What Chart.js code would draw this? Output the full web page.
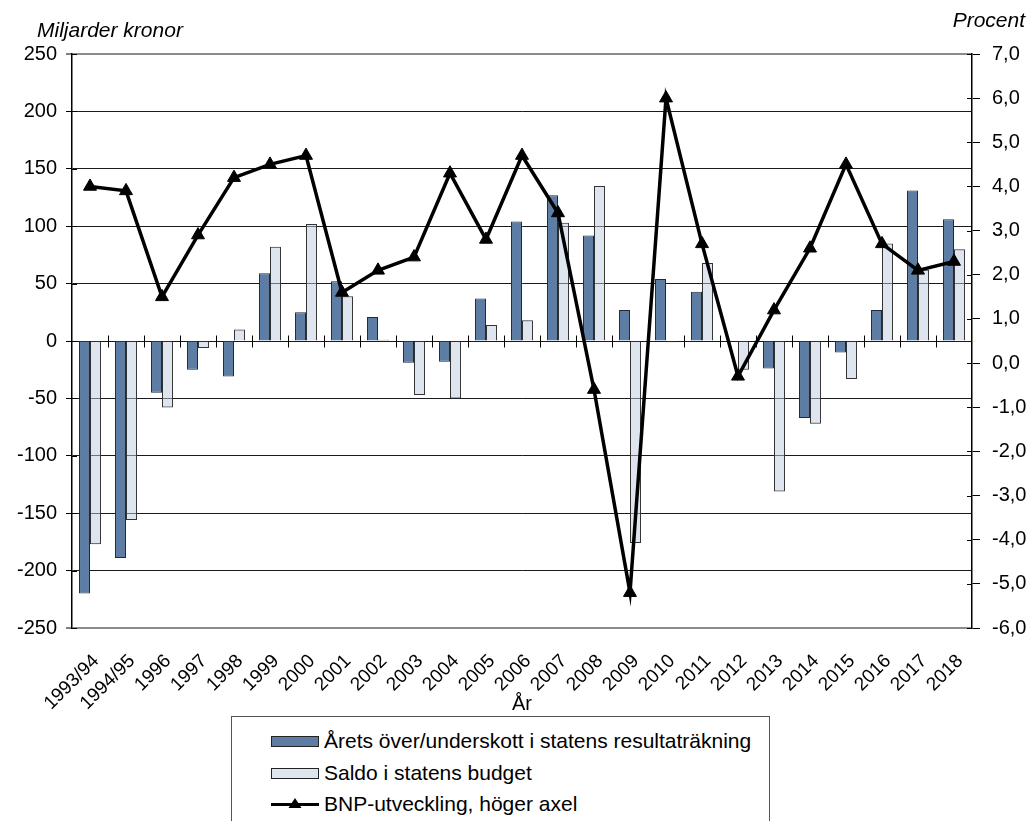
<!DOCTYPE html>
<html lang="sv">
<head>
<meta charset="utf-8">
<title>Statens finanser och BNP</title>
<script src="https://cdn.jsdelivr.net/npm/chart.js@4/dist/chart.umd.min.js"></script>
<style>
  html, body { margin: 0; padding: 0; background: #fff; overflow: hidden; }
  .wrap { position: relative; width: 1031px; height: 821px; }
  #chart { display: block; }
  .legend {
    position: absolute; left: 231px; top: 716px; width: 539px; height: 120px;
    border: 1px solid #555; box-sizing: border-box;
    font-family: 'Liberation Sans', Arial, sans-serif; font-size: 21px; color: #000;
  }
  .legend .row { position: absolute; left: 39px; height: 24px; display: flex; align-items: center; }
  .legend .sw { width: 48px; height: 11px; margin-right: 5px; box-sizing: border-box; border: 1px solid #222; }
  .legend canvas { margin-right: 5px; }
</style>
</head>
<body>
<div class="wrap">
  <canvas id="chart" width="1031" height="716"></canvas>
  <div class="legend" id="legend"></div>
</div>
<script>
// categories
const years = ['1993/94', '1994/95', '1996', '1997', '1998', '1999', '2000', '2001', '2002', '2003',
  '2004', '2005', '2006', '2007', '2008', '2009', '2010', '2011', '2012', '2013',
  '2014', '2015', '2016', '2017', '2018'];

// Årets över/underskott i statens resultaträkning, miljarder kronor
const resultat = [-220, -189, -45, -25, -31, 59, 25, 52, 21, -19,
  -18, 37, 104, 127, 92, 27, 54, 43, 0, -24,
  -67, -10, 27, 131, 106];

// Saldo i statens budget, miljarder kronor
const saldo = [-177, -156, -58, -6, 10, 82, 102, 39, 1, -47,
  -50, 14, 18, 103, 135, -176, -1, 68, -25, -131,
  -72, -33, 85, 62, 80];

// BNP-utveckling, procent (höger axel)
const bnp = [4.0, 3.9, 1.5, 2.9, 4.2, 4.5, 4.7, 1.6, 2.1, 2.4,
  4.3, 2.8, 4.7, 3.4, -0.6, -5.2, 6.0, 2.7, -0.3, 1.2,
  2.6, 4.5, 2.7, 2.1, 2.3];

const labelResultat = 'Årets över/underskott i statens resultaträkning';
const labelSaldo = 'Saldo i statens budget';
const labelBnp = 'BNP-utveckling, höger axel';

const darkBlue = '#5d7da4';
const lightBlue = 'rgba(190,203,222,0.5)';
const FONT = "'Liberation Sans', Arial, sans-serif";

Chart.defaults.font.family = FONT;
Chart.defaults.color = '#000';

// small helper ticks: x ticks across the zero line, inner halves of the y ticks, axis titles
const extras = {
  id: 'extras',
  afterDraw(chart) {
    const { ctx, chartArea, scales } = chart;
    const x = scales.x, y = scales.y, y1 = scales.y1;
    ctx.save();
    ctx.strokeStyle = '#000';
    ctx.lineWidth = 1;
    const y0 = Math.round(y.getPixelForValue(0)) + 0.5;
    for (let i = 1; i < years.length; i++) {
      const px = Math.round((x.getPixelForValue(i - 1) + x.getPixelForValue(i)) / 2) + 0.5;
      ctx.beginPath();
      ctx.moveTo(px, y0 - 6);
      ctx.lineTo(px, y0 + 6);
      ctx.stroke();
    }
    y.ticks.forEach(t => {
      const py = Math.round(y.getPixelForValue(t.value)) + 0.5;
      ctx.beginPath();
      ctx.moveTo(chartArea.left, py);
      ctx.lineTo(chartArea.left + 5, py);
      ctx.stroke();
    });
    y1.ticks.forEach(t => {
      const py = Math.round(y1.getPixelForValue(t.value)) + 0.5;
      ctx.beginPath();
      ctx.moveTo(chartArea.right - 5, py);
      ctx.lineTo(chartArea.right, py);
      ctx.stroke();
    });
    ctx.fillStyle = '#000';
    ctx.font = 'italic 21px ' + FONT;
    ctx.textBaseline = 'middle';
    ctx.textAlign = 'left';
    ctx.fillText('Miljarder kronor', 37, 31);
    ctx.textAlign = 'right';
    ctx.fillText('Procent', 1025, 21);
    ctx.restore();
  }
};

const chart = new Chart(document.getElementById('chart').getContext('2d'), {
  type: 'bar',
  data: {
    labels: years,
    datasets: [
      {
        type: 'line',
        label: labelBnp,
        data: bnp,
        yAxisID: 'y1',
        borderColor: '#000',
        borderWidth: 3.5,
        borderJoinStyle: 'miter',
        pointStyle: 'triangle',
        pointRadius: 7.5,
        pointBackgroundColor: '#000',
        pointBorderColor: '#000',
        pointBorderWidth: 1,
        tension: 0,
        order: 0
      },
      {
        label: labelResultat,
        data: resultat,
        yAxisID: 'y',
        backgroundColor: darkBlue,
        borderColor: '#1e2a3a',
        borderWidth: 1,
        categoryPercentage: 0.61,
        barPercentage: 1.0,
        order: 1
      },
      {
        label: labelSaldo,
        data: saldo,
        yAxisID: 'y',
        backgroundColor: lightBlue,
        borderColor: '#333',
        borderWidth: 1,
        categoryPercentage: 0.61,
        barPercentage: 1.0,
        order: 1
      }
    ]
  },
  plugins: [extras],
  options: {
    responsive: false,
    animation: false,
    devicePixelRatio: 1,
    layout: { padding: { top: 54, left: 0, right: 0, bottom: 0 } },
    plugins: {
      legend: { display: false },
      tooltip: { enabled: false }
    },
    scales: {
      x: {
        type: 'category',
        grid: { display: false, drawTicks: false },
        border: { display: false },
        ticks: {
          minRotation: 45, maxRotation: 45, padding: 22, labelOffset: 6, autoSkip: false,
          font: { size: 19 }, color: '#000'
        },
        title: { display: true, text: 'År', font: { size: 20 }, color: '#000', padding: { top: 0, bottom: 0 } },
        afterFit: s => { s.height = 88; }
      },
      y: {
        position: 'left',
        min: -250, max: 250,
        ticks: { stepSize: 50, font: { size: 20 }, color: '#000', padding: 9 },
        grid: {
          color: c => (c.tick && Math.abs(c.tick.value) === 250) ? '#8c8c8c' : '#1a1a1a',
          lineWidth: c => (c.tick && Math.abs(c.tick.value) === 250) ? 2 : 1,
          tickColor: '#000',
          tickLength: 6,
          tickWidth: 1
        },
        border: { display: true, color: '#000', width: 1.5 },
        afterFit: s => { s.width = 72; }
      },
      y1: {
        position: 'right',
        min: -6, max: 7,
        ticks: {
          stepSize: 1, font: { size: 20 }, color: '#000', padding: 12,
          callback: v => v.toFixed(1).replace('.', ',')
        },
        grid: { drawOnChartArea: false, color: '#000', tickLength: 8, tickWidth: 1 },
        border: { display: true, color: '#000', width: 1.5 },
        afterFit: s => { s.width = 59; }
      }
    }
  }
});

// legend built from the chart's datasets
(function buildLegend() {
  const box = document.getElementById('legend');
  const rowsTop = [12, 44, 75];
  const order = [1, 2, 0];
  order.forEach((di, i) => {
    const ds = chart.data.datasets[di];
    const row = document.createElement('div');
    row.className = 'row';
    row.style.top = rowsTop[i] + 'px';
    if (ds.type === 'line') {
      const c = document.createElement('canvas');
      c.width = 48; c.height = 20;
      const g = c.getContext('2d');
      g.strokeStyle = '#000'; g.lineWidth = 3;
      g.beginPath(); g.moveTo(0, 10.5); g.lineTo(48, 10.5); g.stroke();
      g.fillStyle = '#000';
      g.beginPath(); g.moveTo(24, 4); g.lineTo(30.5, 14); g.lineTo(17.5, 14); g.closePath(); g.fill();
      row.appendChild(c);
    } else {
      const sw = document.createElement('span');
      sw.className = 'sw';
      sw.style.background = di === 1 ? darkBlue : '#dee5ee';
      row.appendChild(sw);
    }
    const t = document.createElement('span');
    t.textContent = ds.label;
    row.appendChild(t);
    box.appendChild(row);
  });
})();
</script>
</body>
</html>
